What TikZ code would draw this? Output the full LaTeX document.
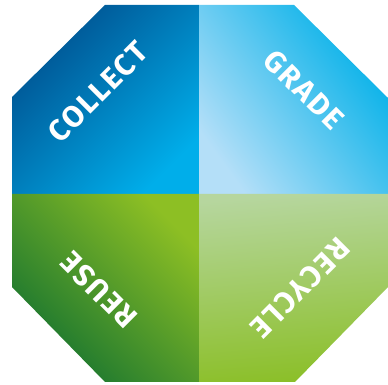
\documentclass[tikz,border=0pt]{standalone}
\usepackage{fontspec}
\setsansfont[LetterSpace=6]{Fira Sans}
\usetikzlibrary{positioning}
\definecolor{collectdark}{HTML}{00508F}
\definecolor{collectmid}{HTML}{0092D2}
\definecolor{collectlight}{HTML}{00AEEA}
\definecolor{gradedark}{HTML}{00B0E8}
\definecolor{grademid}{HTML}{9ED6F5}
\definecolor{gradelight}{HTML}{B4DFF8}
\definecolor{reuselight}{HTML}{8DBF24}
\definecolor{reusedark}{HTML}{157330}
\definecolor{recyclelight}{HTML}{B6D69E}
\definecolor{recycledark}{HTML}{8BBF28}
\tikzset{
    quadrant/.style = {draw=none},
    quadlabel/.style = {text=white, inner sep=0pt,
        font=\sffamily\bfseries\fontsize{30}{30}\selectfont},
}

\begin{document}
\begin{tikzpicture}[x=1pt, y=1pt]
    \useasboundingbox (0,0) rectangle (388,385);

    % octagon corners
    \coordinate (c) at (199,191);
    \coordinate (tl) at (105,380);
    \coordinate (tr) at (294,380);
    \coordinate (rt) at (388,287);
    \coordinate (rb) at (388,98);
    \coordinate (br) at (295,3);
    \coordinate (bl) at (105,3);
    \coordinate (lb) at (12,98);
    \coordinate (lt) at (12,288);

    \shade [quadrant, top color=collectdark, middle color=collectmid, bottom color=collectlight, shading angle=45]
        (12,191) -- (lt) -- (tl) -- (199,380) -- (c) -- cycle;
    \shade [quadrant, top color=gradedark, middle color=grademid, bottom color=gradelight, shading angle=-54]
        (199,380) -- (tr) -- (rt) -- (388,191) -- (c) -- cycle;
    \shade [quadrant, top color=reuselight, bottom color=reusedark, shading angle=-45]
        (12,191) -- (c) -- (199,3) -- (bl) -- (lb) -- cycle;
    \shade [quadrant, top color=recyclelight, bottom color=recycledark, shading angle=5]
        (c) -- (388,191) -- (rb) -- (br) -- (199,3) -- cycle;

    \node (collect) [quadlabel, rotate=45]   at (98,293)  {COLLECT};
    \node (grade)   [quadlabel, rotate=-45]  at (304,295) {GRADE};
    \node (reuse)   [quadlabel, rotate=135]  at (99,95)   {REUSE};
    \node (recycle) [quadlabel, rotate=-135] at (300,97)  {RECYCLE};
\end{tikzpicture}
\end{document}
